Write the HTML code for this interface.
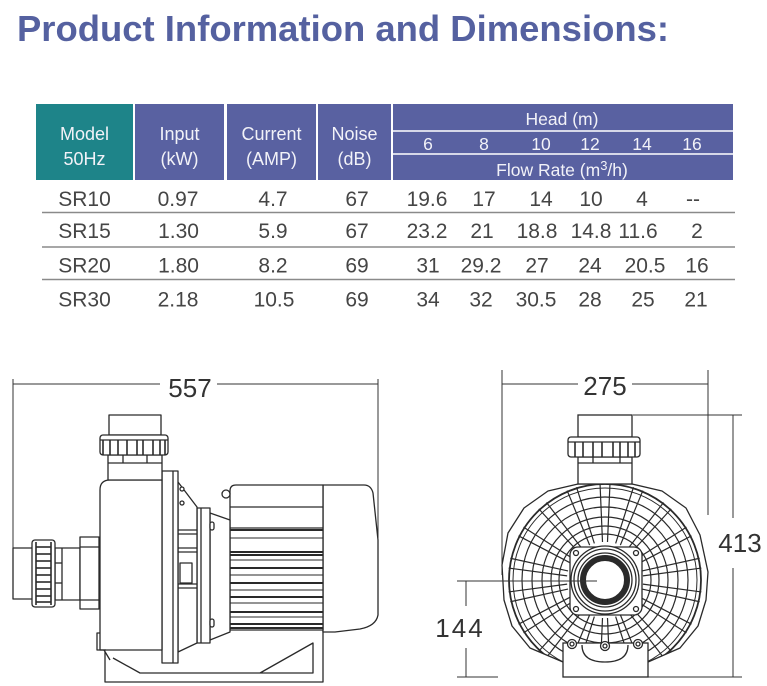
<!DOCTYPE html>
<html><head><meta charset="utf-8"><style>
html,body{margin:0;padding:0;background:#fff;}
svg{display:block;}
text{font-family:"Liberation Sans",Arial,sans-serif;}
</style></head><body>
<svg width="767" height="686" viewBox="0 0 767 686" xmlns="http://www.w3.org/2000/svg">
<defs>
<clipPath id="bc"><polygon points="578,484 548,491 524,508 508,533 502,565 504,600 512,626 530,648 563,662 648,662 680,648 698,626 706,600 708,572 700,535 686,508 662,491 632,484"/></clipPath>
<g id="sp"><line x1="643" y1="577.5" x2="702" y2="575"/><line x1="643" y1="582.5" x2="702" y2="585"/></g>
</defs>

<!-- Title -->
<text x="17" y="41" font-size="36" font-weight="bold" fill="#5561a0" textLength="652" lengthAdjust="spacingAndGlyphs">Product Information and Dimensions:</text>

<!-- Table header -->
<rect x="36" y="104" width="97" height="76" fill="#1e8489"/>
<rect x="135" y="104" width="89" height="76" fill="#5961a1"/>
<rect x="227" y="104" width="89" height="76" fill="#5961a1"/>
<rect x="318" y="104" width="73" height="76" fill="#5961a1"/>
<rect x="393" y="104" width="340" height="76" fill="#5961a1"/>
<line x1="393" y1="131" x2="733" y2="131" stroke="#fff" stroke-width="1.5"/>
<line x1="393" y1="154" x2="733" y2="154" stroke="#fff" stroke-width="1.5"/>
<g fill="#f2f2f8" font-size="18" text-anchor="middle">
<text x="84.5" y="140">Model</text><text x="84.5" y="165">50Hz</text>
<text x="179.5" y="140">Input</text><text x="179.5" y="165">(kW)</text>
<text x="271.5" y="140">Current</text><text x="271.5" y="165">(AMP)</text>
<text x="354.5" y="140">Noise</text><text x="354.5" y="165">(dB)</text>
<text x="562" y="125" font-size="17.5">Head (m)</text>
<text x="428" y="150" font-size="17.5">6</text>
<text x="484" y="150" font-size="17.5">8</text>
<text x="541" y="150" font-size="17.5">10</text>
<text x="590" y="150" font-size="17.5">12</text>
<text x="642" y="150" font-size="17.5">14</text>
<text x="692" y="150" font-size="17.5">16</text>
<text x="562" y="176" font-size="17.5">Flow Rate (m<tspan font-size="13" dy="-6">3</tspan><tspan dy="6">/h)</tspan></text>
</g>

<!-- Row lines -->
<g stroke="#8a8a8a" stroke-width="1.5">
<line x1="42" y1="212.5" x2="735" y2="212.5"/>
<line x1="42" y1="247" x2="735" y2="247"/>
<line x1="42" y1="279.5" x2="735" y2="279.5"/>
</g>

<!-- Data -->
<g fill="#454545" font-size="21" text-anchor="middle">
<text x="84.5" y="206">SR10</text><text x="178" y="206">0.97</text><text x="273" y="206">4.7</text><text x="357" y="206">67</text>
<text x="427" y="206">19.6</text><text x="484" y="206">17</text><text x="541" y="206">14</text><text x="591" y="206">10</text><text x="642" y="206">4</text><text x="693" y="206">--</text>

<text x="84.5" y="238">SR15</text><text x="178.5" y="238">1.30</text><text x="273" y="238">5.9</text><text x="357" y="238">67</text>
<text x="427" y="238">23.2</text><text x="482" y="238">21</text><text x="537" y="238">18.8</text><text x="591" y="238">14.8</text><text x="638" y="238">11.6</text><text x="697" y="238">2</text>

<text x="84.5" y="272.5">SR20</text><text x="178.5" y="272.5">1.80</text><text x="273" y="272.5">8.2</text><text x="357" y="272.5">69</text>
<text x="428" y="272.5">31</text><text x="481" y="272.5">29.2</text><text x="537" y="272.5">27</text><text x="590" y="272.5">24</text><text x="645" y="272.5">20.5</text><text x="697" y="272.5">16</text>

<text x="84.5" y="306.5">SR30</text><text x="178" y="306.5">2.18</text><text x="274" y="306.5">10.5</text><text x="357" y="306.5">69</text>
<text x="428" y="306.5">34</text><text x="481" y="306.5">32</text><text x="536" y="306.5">30.5</text><text x="590" y="306.5">28</text><text x="643" y="306.5">25</text><text x="696" y="306.5">21</text>
</g>

<!-- ===== Side view ===== -->
<g stroke="#333" stroke-width="1" fill="none">
<line x1="13" y1="379" x2="13" y2="598"/>
<line x1="13" y1="384" x2="160" y2="384"/>
<line x1="217" y1="384" x2="378" y2="384"/>
<line x1="378" y1="379" x2="378" y2="540"/>
</g>
<text x="190" y="397" font-size="26" fill="#333" text-anchor="middle">557</text>

<g fill="#fff" stroke="#2a2a2a" stroke-width="1.3" stroke-linejoin="round">
<!-- base -->
<path d="M105,652 V682 H323 V628" fill="none"/>
<path d="M113,658 L140,673 H313 V643 L260,673" fill="none"/>
<!-- fan cover -->
<path d="M323,485 H364 Q371,485 373,493 L378,540 V615 Q376,626 360,629 L335,632 H323 Z"/>
<!-- motor -->
<path d="M230,630 V491 Q230,485 236,485 H323 V630 Z"/>
<line x1="230" y1="507" x2="323" y2="507"/>
<line x1="230" y1="528" x2="323" y2="528"/>
<circle cx="226" cy="494" r="4"/>
<!-- cone -->
<path d="M210,513 L230,520 V632 L210,640 Z"/>
<!-- second flange -->
<rect x="197" y="508" width="13" height="135"/>
<line x1="201" y1="508" x2="201" y2="643"/>
<rect x="210" y="522" width="4" height="8" rx="2"/>
<rect x="210" y="619" width="4" height="8" rx="2"/>
<!-- bracket -->
<path d="M178,482 L197,507 V643 L178,652 Z"/>
<line x1="178" y1="530" x2="197" y2="530"/>
<line x1="178" y1="534" x2="197" y2="534"/>
<line x1="178" y1="548" x2="197" y2="548"/>
<line x1="178" y1="552" x2="197" y2="552"/>
<rect x="180" y="563" width="12" height="20"/>
<line x1="178" y1="584" x2="197" y2="584"/>
<line x1="178" y1="588" x2="197" y2="588"/>
<circle cx="182" cy="489" r="2"/>
<circle cx="182" cy="503" r="2"/>
<!-- flange plate -->
<rect x="162" y="471" width="16" height="192"/>
<line x1="173" y1="471" x2="173" y2="663"/>
<!-- pot -->
<path d="M100,650 V490 Q100,480 110,480 H162 V650 Z"/>
<path d="M100,633 H97 V650 H106" fill="none"/>
<path d="M104,650 L110,660" fill="none"/>
<!-- neck -->
<rect x="108" y="455" width="54" height="25"/>
<line x1="108" y1="463" x2="162" y2="463"/>
<line x1="123" y1="455" x2="123" y2="463"/>
<line x1="147" y1="455" x2="147" y2="463"/>
<!-- top pipe -->
<rect x="109" y="415" width="52" height="20"/>
<!-- top nut -->
<rect x="100" y="435" width="68" height="20" rx="3"/>
<line x1="100" y1="440" x2="168" y2="440"/>
<!-- left pipe / nuts -->
<rect x="13" y="548" width="20" height="51"/>
<rect x="55" y="548" width="25" height="52"/>
<line x1="62" y1="548" x2="62" y2="600"/>
<line x1="55" y1="563" x2="62" y2="563"/>
<line x1="55" y1="583" x2="62" y2="583"/>
<rect x="80" y="537" width="19" height="72"/>
<line x1="80" y1="547" x2="99" y2="547"/>
<line x1="80" y1="600" x2="99" y2="600"/>
<rect x="32" y="540" width="23" height="67" rx="3"/>
</g>
<!-- ribs/fins -->
<g stroke="#2a2a2a" fill="none">
<g stroke-width="1.6">
<line x1="103" y1="440" x2="103" y2="455"/><line x1="110" y1="440" x2="110" y2="455"/><line x1="118" y1="440" x2="118" y2="455"/>
<line x1="127" y1="440" x2="127" y2="455"/><line x1="137" y1="440" x2="137" y2="455"/><line x1="143" y1="440" x2="143" y2="455"/>
<line x1="153" y1="440" x2="153" y2="455"/><line x1="160" y1="440" x2="160" y2="455"/><line x1="165" y1="440" x2="165" y2="455"/>
<line x1="36" y1="542" x2="36" y2="605"/><line x1="51" y1="542" x2="51" y2="605"/>
<line x1="36" y1="547" x2="51" y2="547"/><line x1="36" y1="554" x2="51" y2="554"/><line x1="36" y1="561" x2="51" y2="561"/>
<line x1="36" y1="568" x2="51" y2="568"/><line x1="36" y1="575" x2="51" y2="575"/><line x1="36" y1="582" x2="51" y2="582"/>
<line x1="36" y1="589" x2="51" y2="589"/><line x1="36" y1="596" x2="51" y2="596"/><line x1="36" y1="602" x2="51" y2="602"/>
</g>
<g stroke-width="2">
<line x1="230" y1="530" x2="323" y2="530"/><line x1="230" y1="552" x2="323" y2="552"/><line x1="230" y1="555" x2="323" y2="555"/>
<line x1="230" y1="568" x2="323" y2="568"/><line x1="230" y1="583" x2="323" y2="583"/><line x1="230" y1="597" x2="323" y2="597"/>
<line x1="230" y1="612" x2="323" y2="612"/><line x1="230" y1="624" x2="323" y2="624"/><line x1="230" y1="628" x2="323" y2="628"/>
</g>
<g stroke-width="1">
<line x1="230" y1="538" x2="323" y2="538"/><line x1="230" y1="560" x2="323" y2="560"/><line x1="230" y1="575" x2="323" y2="575"/>
<line x1="230" y1="590" x2="323" y2="590"/><line x1="230" y1="603" x2="323" y2="603"/><line x1="230" y1="617" x2="323" y2="617"/>
</g>
</g>

<!-- ===== Front view ===== -->
<g stroke="#333" stroke-width="1" fill="none">
<line x1="502" y1="370" x2="502" y2="575"/>
<line x1="708" y1="370" x2="708" y2="515"/>
<line x1="502" y1="384" x2="578" y2="384"/>
<line x1="632" y1="384" x2="708" y2="384"/>
<line x1="633" y1="415" x2="742" y2="415"/>
<line x1="733" y1="415" x2="733" y2="518"/>
<line x1="733" y1="568" x2="733" y2="677"/>
<line x1="648" y1="677" x2="742" y2="677"/>
<line x1="457" y1="677" x2="498" y2="677"/>
<line x1="466" y1="581" x2="466" y2="606"/>
<line x1="466" y1="648" x2="466" y2="677"/>
</g>
<g font-size="26" fill="#333" text-anchor="middle">
<text x="605" y="395">275</text>
<text x="740" y="552">413</text>
<text x="460" y="637" letter-spacing="2">144</text>
</g>

<g fill="#fff" stroke="#2a2a2a" stroke-width="1.3" stroke-linejoin="round">
<polygon points="578,484 548,491 524,508 508,533 502,565 504,600 512,626 530,648 563,662 648,662 680,648 698,626 706,600 708,572 700,535 686,508 662,491 632,484"/>
</g>
<g clip-path="url(#bc)" fill="none" stroke="#2a2a2a">
<circle cx="605" cy="580" r="96" stroke-width="1.8"/>
<circle cx="605" cy="580" r="92" stroke-width="1"/>
<circle cx="605" cy="580" r="83" stroke-width="1.2"/>
<circle cx="605" cy="580" r="73" stroke-width="1.2"/>
<circle cx="605" cy="580" r="63" stroke-width="1.2"/>
<circle cx="605" cy="580" r="54" stroke-width="1.2"/>
<circle cx="605" cy="580" r="46" stroke-width="1.2"/>
<g stroke-width="1.2">
<use href="#sp" transform="rotate(10 605 580)"/>
<use href="#sp" transform="rotate(30 605 580)"/>
<use href="#sp" transform="rotate(50 605 580)"/>
<use href="#sp" transform="rotate(70 605 580)"/>
<use href="#sp" transform="rotate(90 605 580)"/>
<use href="#sp" transform="rotate(110 605 580)"/>
<use href="#sp" transform="rotate(130 605 580)"/>
<use href="#sp" transform="rotate(150 605 580)"/>
<use href="#sp" transform="rotate(170 605 580)"/>
<use href="#sp" transform="rotate(190 605 580)"/>
<use href="#sp" transform="rotate(210 605 580)"/>
<use href="#sp" transform="rotate(230 605 580)"/>
<use href="#sp" transform="rotate(250 605 580)"/>
<use href="#sp" transform="rotate(270 605 580)"/>
<use href="#sp" transform="rotate(290 605 580)"/>
<use href="#sp" transform="rotate(310 605 580)"/>
<use href="#sp" transform="rotate(330 605 580)"/>
<use href="#sp" transform="rotate(350 605 580)"/>
</g>
</g>
<g fill="#fff" stroke="#2a2a2a" stroke-width="1.3">
<rect x="570" y="547" width="72" height="68" rx="8"/>
<circle cx="576" cy="553" r="2.5"/><circle cx="636" cy="553" r="2.5"/>
<circle cx="576" cy="609" r="2.5"/><circle cx="636" cy="609" r="2.5"/>
<circle cx="605" cy="580" r="34"/>
<circle cx="605" cy="580" r="31"/>
<circle cx="605" cy="580" r="27"/>
<circle cx="605" cy="580" r="22" fill="none" stroke-width="6"/>
<circle cx="605" cy="580" r="18.5" stroke="none"/>
<!-- base -->
<rect x="563" y="643" width="85" height="34"/>
<path d="M582,645 Q582,662 605,662 Q628,662 628,645" fill="none"/>
<circle cx="572" cy="644" r="4.5"/><circle cx="572" cy="644" r="2"/>
<circle cx="605" cy="646" r="4.5"/><circle cx="605" cy="646" r="2"/>
<circle cx="638" cy="644" r="4.5"/><circle cx="638" cy="644" r="2"/>
<!-- neck -->
<rect x="578" y="457" width="54" height="27"/>
<line x1="578" y1="463" x2="632" y2="463"/>
<line x1="593" y1="457" x2="593" y2="463"/>
<line x1="620" y1="457" x2="620" y2="463"/>
<!-- pipe -->
<rect x="578" y="415" width="54" height="22"/>
<!-- nut -->
<rect x="568" y="437" width="72" height="20" rx="3"/>
<line x1="568" y1="442" x2="640" y2="442"/>
</g>
<g stroke="#2a2a2a" stroke-width="1.6">
<line x1="575" y1="442" x2="575" y2="457"/><line x1="583" y1="442" x2="583" y2="457"/>
<line x1="593" y1="442" x2="593" y2="457"/><line x1="602" y1="442" x2="602" y2="457"/>
<line x1="613" y1="442" x2="613" y2="457"/><line x1="620" y1="442" x2="620" y2="457"/>
<line x1="628" y1="442" x2="628" y2="457"/><line x1="635" y1="442" x2="635" y2="457"/>
</g>
<line x1="457" y1="581" x2="597" y2="581" stroke="#333" stroke-width="1"/>
</svg>
</body></html>
